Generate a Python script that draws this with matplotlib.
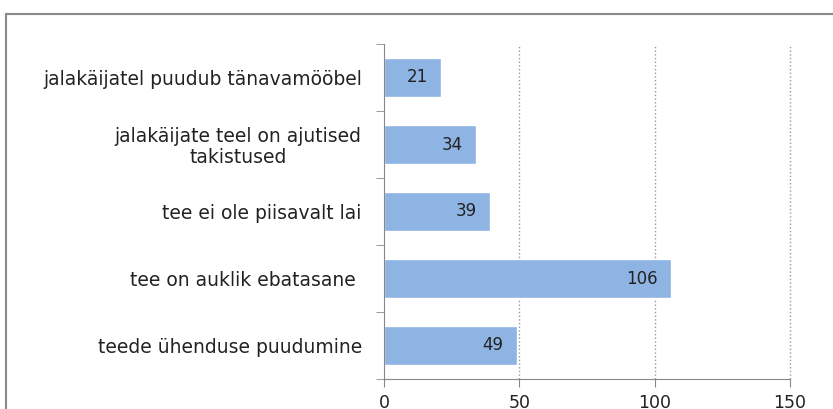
import matplotlib.pyplot as plt
from matplotlib.patches import Rectangle
import numpy as np

kategooriad = [
    "jalakäijatel puudub tänavamööbel",
    "jalakäijate teel on ajutised\ntakistused",
    "tee ei ole piisavalt lai",
    "tee on auklik ebatasane ",
    "teede ühenduse puudumine",
]
vaartused = [21, 34, 39, 106, 49]
x_ticks = [0, 50, 100, 150]

plt.rcParams['font.family'] = ['DejaVu Sans']

fig = plt.figure(figsize=(8.33, 4.09), dpi=100)
ax = fig.add_axes([384 / 833, 30 / 409, 406 / 833, 335 / 409])

# raam ümber joonise
fig.patches.append(Rectangle((6 / 833, -0.2), 1.2, 0.2 + (409 - 14) / 409,
                             transform=fig.transFigure, fill=False,
                             edgecolor='#8a8a8a', linewidth=1.5))

y = np.arange(len(kategooriad))
ax.barh(y, vaartused, height=0.58, color='#8EB4E3', edgecolor='white', linewidth=1)
ax.set_ylim(len(kategooriad) - 0.5, -0.5)
ax.set_xlim(0, 150)

for yi, v in zip(y, vaartused):
    ax.text(v - 4.8, yi, str(v), ha='right', va='center', fontsize=12, color='#222222')

ax.set_yticks(y)
ax.set_yticklabels(kategooriad, fontsize=13.5, color='#222222', ha='right',
                   multialignment='center', linespacing=1.1)
ax.tick_params(axis='y', length=0, pad=16)
ax.set_yticks(np.arange(-0.5, len(kategooriad), 1), minor=True)
ax.tick_params(axis='y', which='minor', length=6, color='#888888', direction='out')

ax.set_xticks(x_ticks)
ax.set_xticklabels([str(t) for t in x_ticks], fontsize=12.5, color='#222222')
ax.tick_params(axis='x', length=6, color='#888888', pad=5)

for t in x_ticks[1:]:
    ax.axvline(t, linestyle=':', color='#999999', linewidth=1, clip_on=False, zorder=0)
for s in ['top', 'right']:
    ax.spines[s].set_visible(False)
for s in ['left', 'bottom']:
    ax.spines[s].set_color('#888888')

plt.savefig('out.png', dpi=100)
plt.close()
